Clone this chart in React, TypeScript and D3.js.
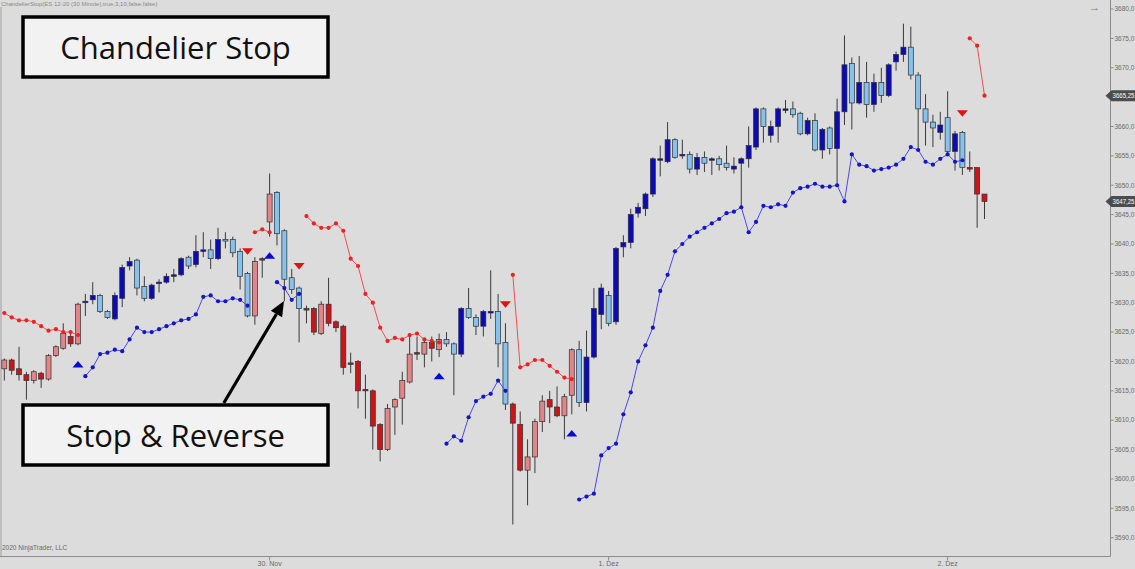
import React from "react";
import * as d3 from "d3";

// ---------- DATA (ES 12-20, 30 minute bars) ----------
const opens = [
  3618.75, 3620.25, 3618.75, 3617.75, 3616.75, 3618.0, 3617.0, 3621.0, 3622.25, 3624.25,
  3623.0, 3630.0, 3630.5, 3631.25, 3628.5, 3627.25, 3630.75, 3636.25, 3637.25, 3632.75,
  3630.75, 3633.25, 3633.5, 3634.5, 3634.75, 3637.75, 3636.5, 3638.75, 3639.0, 3637.5,
  3640.75, 3640.75, 3638.75, 3635.0, 3627.75, 3637.5, 3643.75, 3648.75, 3642.25, 3634.25,
  3632.5, 3629.0, 3629.0, 3624.75, 3629.75, 3626.75, 3626.0, 3619.75, 3620.0, 3615.25,
  3615.0, 3609.25, 3605.0, 3612.25, 3613.75, 3616.5, 3621.5, 3621.25, 3623.25, 3622.0,
  3623.75, 3623.0, 3621.25, 3629.0, 3627.5, 3626.0, 3628.25, 3628.5, 3623.25, 3612.75,
  3609.25, 3601.5, 3603.75, 3609.75, 3613.5, 3612.25, 3610.75, 3614.25, 3622.0, 3613.0,
  3620.75, 3628.0, 3631.25, 3626.75, 3639.5, 3640.25, 3645.25, 3646.0, 3648.5, 3654.25,
  3654.0, 3657.75, 3655.0, 3655.25, 3652.75, 3654.75, 3654.25, 3654.5, 3653.75, 3652.75,
  3653.75, 3654.5, 3656.5, 3663.0, 3658.5, 3660.0, 3662.75, 3663.0, 3662.25, 3658.75,
  3661.0, 3656.0, 3659.75, 3656.25, 3662.5, 3670.75, 3664.0, 3667.5, 3663.75, 3667.5,
  3665.25, 3671.0, 3672.25, 3673.5, 3668.75, 3663.0, 3660.75, 3659.0, 3661.5, 3655.75,
  3659.0, 3653.0, 3653.0, 3648.5,
];
const highs = [
  3620.5, 3620.5, 3622.5, 3618.25, 3618.5, 3618.25, 3621.25, 3622.75, 3626.5, 3624.75,
  3630.0, 3631.5, 3633.5, 3631.5, 3628.75, 3631.75, 3636.5, 3637.75, 3637.5, 3634.5,
  3633.25, 3634.0, 3635.0, 3635.75, 3637.75, 3638.0, 3641.5, 3642.0, 3640.75, 3642.75,
  3642.0, 3641.25, 3639.25, 3635.25, 3637.75, 3637.75, 3652.0, 3649.0, 3642.5, 3635.75,
  3632.75, 3629.5, 3629.25, 3630.25, 3634.25, 3627.0, 3626.25, 3621.5, 3620.25, 3617.75,
  3615.25, 3609.5, 3612.75, 3613.75, 3618.25, 3624.75, 3624.25, 3624.0, 3624.25, 3624.75,
  3625.0, 3623.25, 3629.25, 3632.5, 3628.0, 3628.75, 3635.5, 3631.5, 3626.5, 3613.0,
  3611.5, 3606.75, 3610.25, 3614.25, 3615.0, 3615.75, 3614.5, 3622.25, 3623.5, 3625.25,
  3632.5, 3633.25, 3632.0, 3639.5, 3641.5, 3646.0, 3647.0, 3648.75, 3654.75, 3656.75,
  3660.75, 3658.0, 3657.75, 3655.75, 3655.5, 3655.75, 3654.75, 3655.0, 3656.75, 3654.75,
  3654.75, 3660.0, 3663.25, 3663.25, 3661.0, 3663.25, 3664.5, 3664.25, 3662.5, 3661.5,
  3662.25, 3659.75, 3660.0, 3664.75, 3675.5, 3671.75, 3672.0, 3671.0, 3669.0, 3670.0,
  3670.75, 3672.75, 3677.5, 3677.0, 3669.25, 3665.5, 3662.0, 3662.5, 3666.0, 3659.25,
  3659.25, 3655.75, 3653.0, 3648.5,
];
const lows = [
  3616.75, 3617.75, 3616.75, 3613.5, 3616.25, 3615.5, 3616.75, 3620.75, 3622.0, 3622.5,
  3622.75, 3627.75, 3629.75, 3628.25, 3627.25, 3627.0, 3629.25, 3635.5, 3631.25, 3630.25,
  3630.5, 3631.75, 3633.25, 3633.5, 3634.5, 3635.75, 3636.0, 3637.75, 3635.75, 3637.25,
  3639.25, 3637.75, 3632.25, 3627.5, 3626.25, 3634.25, 3641.25, 3639.75, 3630.25, 3631.5,
  3623.25, 3626.5, 3624.5, 3624.5, 3626.0, 3625.0, 3617.75, 3618.0, 3612.0, 3610.25,
  3605.0, 3603.0, 3604.75, 3607.5, 3609.25, 3616.25, 3620.25, 3619.0, 3620.0, 3620.75,
  3622.5, 3614.25, 3620.75, 3627.25, 3624.5, 3624.25, 3627.25, 3619.0, 3611.75, 3592.25,
  3601.25, 3595.5, 3601.0, 3608.0, 3609.5, 3610.5, 3606.75, 3611.0, 3612.25, 3611.5,
  3620.5, 3625.5, 3626.0, 3626.25, 3637.75, 3639.25, 3644.5, 3644.75, 3648.0, 3651.5,
  3653.75, 3654.5, 3654.5, 3652.0, 3651.75, 3652.25, 3651.75, 3652.5, 3652.5, 3652.0,
  3646.25, 3653.0, 3656.0, 3657.25, 3657.25, 3657.25, 3662.25, 3661.5, 3658.5, 3658.5,
  3655.75, 3654.5, 3655.25, 3650.0, 3660.25, 3659.5, 3663.75, 3661.5, 3662.5, 3664.0,
  3665.0, 3669.5, 3671.0, 3668.0, 3656.25, 3656.75, 3656.5, 3657.75, 3655.25, 3652.5,
  3651.75, 3652.25, 3642.75, 3644.25,
];
const closes = [
  3620.25, 3618.5, 3617.75, 3616.75, 3618.25, 3617.0, 3621.0, 3622.5, 3624.75, 3623.0,
  3629.75, 3630.25, 3631.25, 3628.5, 3627.5, 3631.25, 3636.0, 3637.0, 3632.5, 3630.75,
  3633.0, 3633.5, 3634.5, 3634.75, 3637.5, 3636.25, 3638.75, 3639.0, 3637.5, 3640.75,
  3640.5, 3638.5, 3634.5, 3627.75, 3637.0, 3637.25, 3648.5, 3641.75, 3634.0, 3632.25,
  3629.0, 3628.75, 3625.0, 3629.75, 3626.5, 3625.75, 3619.0, 3619.5, 3615.0, 3615.0,
  3609.0, 3605.0, 3612.0, 3613.5, 3616.75, 3621.25, 3621.25, 3623.25, 3622.25, 3623.75,
  3623.0, 3621.25, 3629.0, 3627.5, 3626.0, 3628.5, 3628.5, 3623.0, 3612.75, 3609.5,
  3601.5, 3603.75, 3609.75, 3613.25, 3612.25, 3610.75, 3614.0, 3622.0, 3613.0, 3620.75,
  3629.0, 3632.5, 3626.5, 3639.25, 3640.25, 3645.0, 3646.25, 3648.5, 3654.5, 3654.5,
  3657.75, 3654.75, 3655.25, 3652.75, 3654.75, 3653.75, 3654.5, 3653.5, 3653.0, 3653.25,
  3654.5, 3656.75, 3663.0, 3660.0, 3660.0, 3663.0, 3663.0, 3662.0, 3658.75, 3661.0,
  3656.0, 3659.5, 3656.25, 3662.5, 3670.5, 3664.0, 3667.5, 3663.75, 3667.5, 3665.25,
  3670.5, 3672.25, 3673.5, 3668.75, 3663.0, 3660.75, 3659.75, 3660.25, 3655.75, 3658.75,
  3653.0, 3652.75, 3648.5, 3647.25,
];

// trend runs: [direction, number of bars]
const trendRuns: [string, number][] = [
  ["short", 11], ["long", 23], ["short", 3], ["long", 4], ["short", 19],
  ["long", 9], ["short", 9], ["long", 53], ["short", 3],
];

// Chandelier stop segments (long = blue below price, short = red above price)
const longStopSegments = [
  { from: 11, values: [3617.5, 3619.0, 3621.25, 3621.5, 3622.0, 3621.75, 3623.75, 3625.75, 3625.0, 3625.0, 3625.5, 3626.0, 3626.5, 3627.0, 3627.25, 3628.0, 3631.0, 3631.25, 3630.25, 3630.25, 3630.75, 3630.5, 3629.5] },
  { from: 37, values: [3633.5, 3632.5, 3630.5, 3631.5] },
  { from: 60, values: [3606.0, 3607.25, 3606.5, 3610.5, 3613.25, 3614.0, 3614.5, 3616.75, 3615.0] },
  { from: 78, values: [3596.5, 3597.0, 3597.5, 3604.0, 3605.25, 3606.0, 3611.0, 3614.75, 3620.0, 3622.75,
    3625.75, 3632.0, 3634.75, 3638.75, 3640.0, 3641.25, 3642.0, 3642.75, 3643.5, 3644.25,
    3645.25, 3645.5, 3646.25, 3642.0, 3643.75, 3646.5, 3646.25, 3646.75, 3646.5, 3648.75,
    3649.5, 3649.75, 3650.25, 3649.75, 3649.75, 3650.0, 3647.25, 3655.25, 3653.5, 3653.25,
    3652.5, 3652.75, 3653.0, 3653.5, 3654.5, 3656.5, 3656.0, 3654.0, 3653.5, 3654.5,
    3655.25, 3654.0, 3654.25] },
];
const shortStopSegments = [
  { from: 0, values: [3628.25, 3627.5, 3627.0, 3627.0, 3626.75, 3626.0, 3625.25, 3625.5, 3625.0, 3625.0, 3624.5] },
  { from: 34, values: [3642.0, 3642.5, 3642.0] },
  { from: 41, values: [3644.75, 3643.5, 3642.75, 3642.75, 3643.5, 3642.25, 3637.5, 3636.25, 3631.5, 3630.0, 3625.75, 3623.5, 3624.0, 3623.75, 3624.5, 3624.75, 3623.75, 3623.5, 3623.25] },
  { from: 69, values: [3634.75, 3619.0, 3619.5, 3620.25, 3620.25, 3619.25, 3618.25, 3617.25, 3617.0] },
  { from: 131, values: [3675.0, 3673.75, 3665.25] },
];

// Stop & reverse signals
const signalBars = [10, 33, 36, 40, 59, 68, 77, 130];
const signalDirs = ["up", "down", "up", "down", "up", "down", "up", "down"];
const signalPrices = [3619.5, 3638.75, 3638.0, 3636.25, 3617.5, 3629.75, 3607.75, 3662.25];

// axis
const priceTicks = [3590, 3595, 3600, 3605, 3610, 3615, 3620, 3625, 3630, 3635, 3640, 3645, 3650, 3655, 3660, 3665, 3670, 3675, 3680];
const dateTickBars = [36, 82, 128];
const dateTickLabels = ["30. Nov", "1. Dez", "2. Dez"];

// ---------- STYLE ----------
const W = 1135;
const H = 569;
const BG = "#dcdcdc";
const DARK_BLUE = "#0c0cb2";
const LIGHT_BLUE = "#86c2ea";
const DARK_RED = "#cc1616";
const LIGHT_RED = "#e48585";
const AXIS_X = 1110.5;
const AXIS_Y = 556.5;

export default function App() {
  const x = d3.scaleLinear().domain([0, 133]).range([4.3, 984.5]);
  const y = d3.scaleLinear().domain([3590, 3680]).range([537.7, 9]);

  const trend: string[] = [];
  trendRuns.forEach(([dir, n]) => {
    for (let k = 0; k < n; k++) trend.push(dir);
  });

  const bars = opens.map((o, i) => {
    const c = closes[i];
    const isLong = trend[i] === "long";
    let fill;
    if (isLong) fill = c >= o ? DARK_BLUE : LIGHT_BLUE;
    else fill = c <= o ? DARK_RED : LIGHT_RED;
    return { i, o, h: highs[i], l: lows[i], c, fill };
  });

  const segPoints = (segs: { from: number; values: number[] }[]) =>
    segs.map((s) => s.values.map((v, k) => ({ i: s.from + k, v })));

  const longSegs = segPoints(longStopSegments);
  const shortSegs = segPoints(shortStopSegments);

  const line = d3
    .line<{ i: number; v: number }>()
    .x((d) => x(d.i))
    .y((d) => y(d.v));

  const fmt = (v: number, digits: number) => v.toFixed(digits).replace(".", ",");

  const bodyW = 5;

  const lastClose = closes[closes.length - 1];
  const lastShort = shortStopSegments[shortStopSegments.length - 1].values.slice(-1)[0];
  const markers = [lastShort, lastClose];

  // arrow geometry (annotation)
  const tail = [223.8, 405];
  const tip = [284, 301];
  const dx = tip[0] - tail[0];
  const dy = tip[1] - tail[1];
  const len = Math.hypot(dx, dy);
  const ux = dx / len;
  const uy = dy / len;
  const hl = 15;
  const hw = 6.5;
  const bx = tip[0] - hl * ux;
  const by = tip[1] - hl * uy;
  const head = `${tip[0]},${tip[1]} ${bx - hw * uy},${by + hw * ux} ${bx + hw * uy},${by - hw * ux}`;

  return (
    <svg
      width={W}
      height={H}
      viewBox={`0 0 ${W} ${H}`}
      style={{ position: "absolute", left: 0, top: 0, display: "block" }}
      fontFamily="'Liberation Sans', Arial, sans-serif"
    >
      <rect x={0} y={0} width={W} height={H} fill={BG} />

      {/* top caption */}
      <text x={1} y={5.5} fontSize={6} fill="#8a8a8a">
        ChandelierStop(ES 12-20 (30 Minute),true,3,10,false,false)
      </text>
      <text x={1089} y={11} fontSize={11} fill="#7a7a7a">→</text>

      {/* panel borders */}
      <line x1={1} y1={7} x2={1} y2={AXIS_Y} stroke="#a0a0a0" strokeWidth={1} />
      <line x1={AXIS_X} y1={0} x2={AXIS_X} y2={AXIS_Y} stroke="#8c8c8c" strokeWidth={1} />
      <line x1={0} y1={AXIS_Y} x2={AXIS_X} y2={AXIS_Y} stroke="#8c8c8c" strokeWidth={1} />

      {/* price axis */}
      {priceTicks.map((t) => (
        <g key={t}>
          <line x1={AXIS_X} x2={AXIS_X + 3} y1={y(t)} y2={y(t)} stroke="#8c8c8c" />
          <text x={AXIS_X + 4} y={y(t)} dy="0.35em" fontSize={6.5} fill="#6a6a6a">
            {fmt(t, 1)}
          </text>
        </g>
      ))}

      {/* date axis */}
      {dateTickBars.map((b, k) => (
        <g key={b}>
          <line x1={x(b)} x2={x(b)} y1={AXIS_Y} y2={AXIS_Y + 4} stroke="#8c8c8c" />
          <text x={x(b)} y={566} textAnchor="middle" fontSize={7} fill="#6a6a6a">
            {dateTickLabels[k]}
          </text>
        </g>
      ))}
      <text x={2} y={550} fontSize={6.5} fill="#6a6a6a">2020 NinjaTrader, LLC</text>

      {/* candles */}
      {bars.map((b) => {
        const top = y(Math.max(b.o, b.c));
        const bot = y(Math.min(b.o, b.c));
        const hgt = Math.max(1.2, bot - top);
        return (
          <g key={b.i}>
            <line x1={x(b.i)} x2={x(b.i)} y1={y(b.h)} y2={y(b.l)} stroke="#3a3a3a" strokeWidth={1} />
            <rect
              x={x(b.i) - bodyW / 2}
              y={hgt === 1.2 ? (top + bot) / 2 - 0.6 : top}
              width={bodyW}
              height={hgt}
              fill={b.fill}
              stroke="#2e2e3a"
              strokeWidth={0.7}
            />
          </g>
        );
      })}

      {/* chandelier stops */}
      {shortSegs.map((pts, k) => (
        <g key={"s" + k}>
          <path d={line(pts) || ""} fill="none" stroke="#ee5050" strokeWidth={1} />
          {pts.map((p) => (
            <circle key={p.i} cx={x(p.i)} cy={y(p.v)} r={2.1} fill="#ec2222" />
          ))}
        </g>
      ))}
      {longSegs.map((pts, k) => (
        <g key={"l" + k}>
          <path d={line(pts) || ""} fill="none" stroke="#4a4ae6" strokeWidth={1} />
          {pts.map((p) => (
            <circle key={p.i} cx={x(p.i)} cy={y(p.v)} r={2.1} fill="#1414c8" />
          ))}
        </g>
      ))}

      {/* signals */}
      {signalBars.map((b, k) => {
        const cx = x(b);
        const cy = y(signalPrices[k]);
        const up = signalDirs[k] === "up";
        const pts = up
          ? `${cx - 5.5},${cy + 3} ${cx + 5.5},${cy + 3} ${cx},${cy - 3.5}`
          : `${cx - 5.5},${cy - 3} ${cx + 5.5},${cy - 3} ${cx},${cy + 3.5}`;
        return <polygon key={b} points={pts} fill={up ? "#0a0ad0" : "#e01212"} />;
      })}

      {/* price markers */}
      {markers.map((v, k) => {
        const yy = y(v);
        return (
          <g key={k}>
            <polygon
              points={`${AXIS_X - 5},${yy} ${AXIS_X + 1},${yy - 5.5} ${W},${yy - 5.5} ${W},${yy + 5.5} ${AXIS_X + 1},${yy + 5.5}`}
              fill="#4c4c4c"
            />
            <text x={AXIS_X + 2} y={yy} dy="0.35em" fontSize={6.5} fill="#ffffff" textLength={22} lengthAdjust="spacingAndGlyphs">
              {fmt(v, 2)}
            </text>
          </g>
        );
      })}

      {/* annotations */}
      <g fontFamily="'Open Sans', 'Noto Sans', sans-serif">
        <rect x={23} y={17} width={305} height={60} fill="#f2f2f2" stroke="#000" strokeWidth={3.5} />
        <text x={175.5} y={59} textAnchor="middle" fontSize={31} fill="#111">
          Chandelier Stop
        </text>
        <rect x={23} y={405} width={305} height={60} fill="#f2f2f2" stroke="#000" strokeWidth={3.5} />
        <text x={175.5} y={447} textAnchor="middle" fontSize={31} fill="#111">
          Stop &amp; Reverse
        </text>
        <line x1={tail[0]} y1={tail[1] - 2} x2={bx} y2={by} stroke="#000" strokeWidth={3.2} />
        <polygon points={head} fill="#000" />
      </g>
    </svg>
  );
}
